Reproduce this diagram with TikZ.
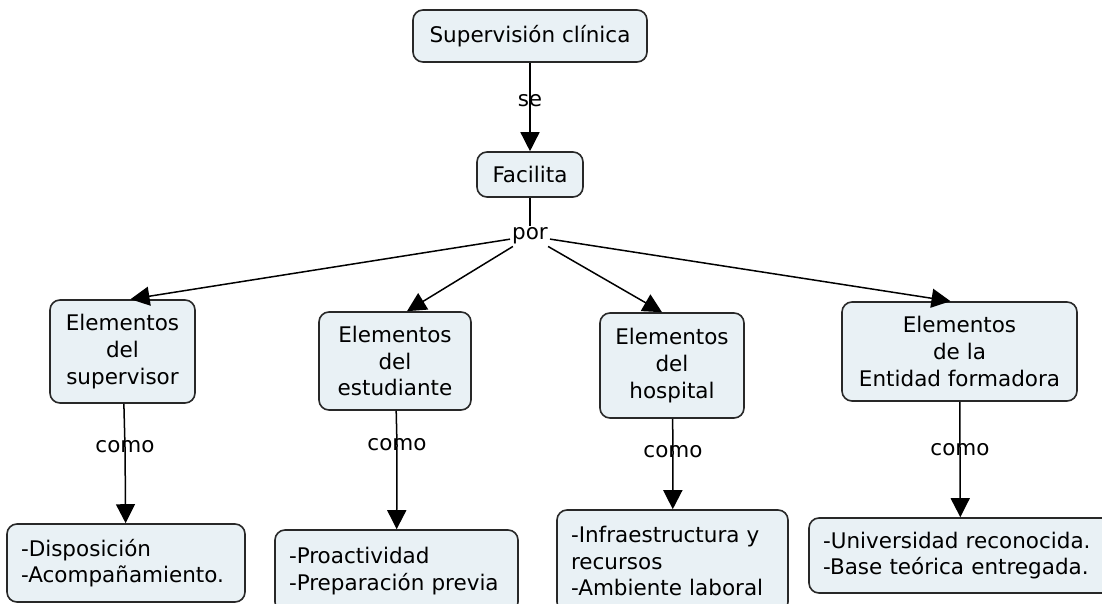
\documentclass[tikz,border=0pt]{standalone}
\usepackage{fontspec}
\setmainfont{DejaVu Sans}
\usetikzlibrary{arrows.meta}
\definecolor{boxfill}{RGB}{233,241,245}
\definecolor{edgegray}{RGB}{40,40,40}
\begin{document}
\begin{tikzpicture}[x=1pt,y=-1pt,
  every node/.style={font=\fontsize{21.5}{26.7}\selectfont},
  concept/.style={draw=edgegray, line width=1.6pt, fill=boxfill, rounded corners=10pt, align=center, inner sep=0pt},
  listbox/.style={concept, align=left, inner xsep=14pt},
  linkword/.style={inner sep=2pt},
  link/.style={line width=1.5pt, draw=black},
  arr/.style={link, -{Triangle[length=19pt,width=19pt]}}]
\useasboundingbox (0,0) rectangle (1102,604);

% concepts
\node[concept, minimum width=234pt, minimum height=52pt] (sup) at (530,36) {Supervisión clínica};
\node[linkword] (se) at (530,101) {se};
\node[concept, minimum width=106pt, minimum height=45pt] (fac) at (530,174.5) {Facilita};
\node[linkword] (por) at (530,236) {por};

\node[concept, minimum width=145pt, minimum height=103pt] (c1) at (122.5,351.5) {Elementos\\del\\supervisor};
\node[concept, minimum width=152pt, minimum height=98pt] (c2) at (395,361) {Elementos\\del\\estudiante};
\node[concept, minimum width=144pt, minimum height=105pt] (c3) at (672,365.5) {Elementos\\del\\hospital};
\node[concept, minimum width=235pt, minimum height=99pt] (c4) at (959.5,351.5) {Elementos\\de la\\Entidad formadora};

\node[linkword] (como1) at (125,447) {como};
\node[linkword] (como2) at (397,445) {como};
\node[linkword] (como3) at (673,452) {como};
\node[linkword] (como4) at (960,450) {como};

% lists
\node[listbox, minimum width=238pt, minimum height=78pt, text width=210pt] (b1) at (126,563) {-Disposición\\-Acompañamiento.};
\node[listbox, minimum width=243pt, minimum height=82pt, text width=215pt] (b2) at (396.5,571) {-Proactividad\\-Preparación previa};
\node[listbox, minimum width=231pt, minimum height=102pt, text width=203pt] (b3) at (672.5,561) {-Infraestructura y\\recursos\\-Ambiente laboral};
\node[listbox, minimum width=303pt, minimum height=75pt, text width=275pt] (b4) at (960.5,555.5) {-Universidad reconocida.\\-Base teórica entregada.};

% connectors
\draw[arr] (sup) -- (se.center) -- (fac);
\draw[link] (fac) -- (por);
\draw[arr] (por) -- ([xshift=8pt]c1.north);
\draw[arr] (por) -- ([xshift=12pt]c2.north);
\draw[arr] (por) -- ([xshift=-10pt]c3.north);
\draw[arr] (por) -- ([xshift=-9pt]c4.north);

\draw[arr] (c1) -- (como1.center) -- (b1);
\draw[arr] (c2) -- (como2.center) -- (b2);
\draw[arr] (c3) -- (como3.center) -- (b3);
\draw[arr] (c4) -- (como4.center) -- (b4);
\end{tikzpicture}
\end{document}
